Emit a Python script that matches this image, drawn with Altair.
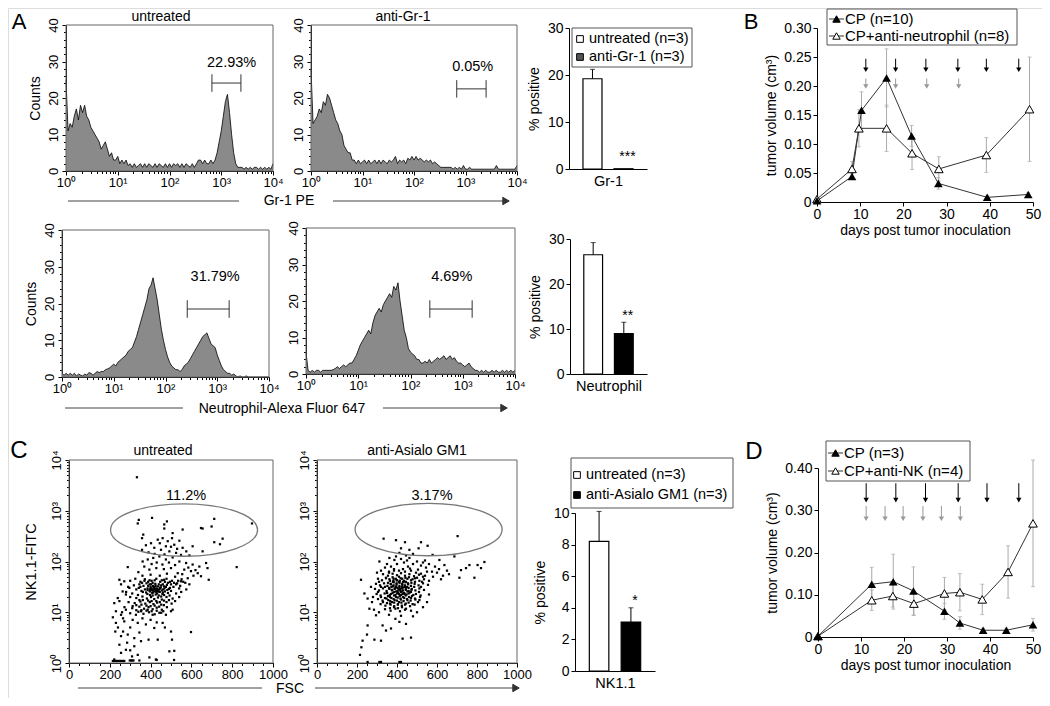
import altair as alt
import numpy as np
import pandas as pd

FONT = "Liberation Sans"
M = 8
W, H = 1034, 690

# ---------------- data ----------------
# flow histograms: counts per log10 bin (bins 0.04 decade wide, 10^0 .. 10^4)
hist_bins_log = [round(i * 0.04, 2) for i in range(101)]
gr1_untreated = [25, 11, 13, 12, 15, 17, 14, 18, 16, 18, 15,
                 14, 12, 11, 10, 9, 8, 6, 7, 8, 6,
                 4, 5, 3, 3, 4, 2, 3, 2, 3, 1.5,
                 2, 1, 2, 1, 1.5, 2, 1, 2, 1, 2, 1.5, 1, 2, 1, 2, 1.5, 1, 2, 1, 2,
                 1, 2, 1.5, 2, 1, 2, 1, 2, 1.5, 1, 2, 1, 2, 3,
                 3, 2, 3, 2, 2, 3,
                 2, 3, 5, 8, 11, 15, 19, 21, 16, 10, 5, 2, 1, 1,
                 1, 0.5, 1, 0.5, 1, 0.5, 1, 1, 0.5, 1, 0.5, 1, 0.5, 1, 0.5, 2]
gr1_anti = [28, 13, 14, 15, 17, 16, 19, 18, 21, 20, 18,
            16, 14, 13, 11, 10, 7, 6, 5, 5, 3, 3, 2,
            3, 2, 2.5, 3, 2, 3, 2, 2.5, 3, 2, 3, 2, 3, 2.5, 2, 3, 2.5, 3, 4, 2,
            3, 2.5, 3, 2, 3.5, 3, 4, 3, 4, 3, 3.5, 3, 2.5, 3, 2.5, 3, 2, 2.5, 2, 1.5,
            1, 1, 1, 1, 1, 1, 0.5, 1, 0.5, 1, 0.5, 1.5, 0.5, 0.5, 1,
            0.5, 0.5, 0.5, 0.5, 0.5, 0.5, 0.5, 0.5, 0.5, 0.5, 0.5, 0.5, 1.5, 0.5, 0.5,
            0.5, 0.5, 0.5, 0.5, 0.5, 0.5, 0.5, 1.5]
neu_untreated = [1, 0.5, 1, 0.5, 1, 0.5, 1, 0.3, 0.8, 0.5, 0.3, 0.8, 0.5,
                 1.2, 1, 0.5, 1, 1.5, 1.2, 1.5, 1.5, 2, 2.2, 2.5, 3,
                 3.5, 3, 4, 4.5, 5, 5.5, 6, 7, 7.5, 8, 9.5, 11, 13, 15, 17, 19, 21, 24, 25, 27,
                 24, 21, 17, 13, 10, 7.5, 5.5, 4, 3, 2.5, 2, 2, 1.5, 2,
                 3, 3.5, 4, 5, 6, 7, 8, 9, 10, 11, 11.5, 12, 10.5, 9, 8.5, 8, 6, 4.5, 3, 2,
                 1.5, 1, 1, 0.5, 0.8,
                 0.3, 0, 0.3, 0, 0, 0.3, 0, 0, 0, 0, 0, 0, 0, 0, 0, 0, 0]
neu_anti = [6, 1, 0.5, 1, 0.5, 1, 1, 0.5, 1, 1, 1, 1, 1,
            1.2, 1.5, 2, 1.5, 2, 2.5, 2, 2.5, 3, 3, 4, 5,
            6.5, 8, 9, 10, 11, 12, 11, 14, 16, 17, 18, 17, 19, 20, 21, 22, 21, 24, 23, 25,
            20, 16, 12, 10, 7, 6, 5.5, 5, 4, 4, 3, 3, 3.5, 3, 4, 3, 3.5, 4, 4.5, 4,
            4.5, 5, 4, 4.5, 5, 4, 4.5, 3.5, 3, 3, 2.5, 2, 2.5, 3, 2, 1.5, 1, 1, 0.5,
            1, 0.5, 1, 0.5, 0.5, 1, 0.5, 1, 0.5, 0.5, 1, 0.5, 1, 0.5, 1, 0.5, 1]

# bar charts (% positive)
bar_groups = ["untreated", "treated"]
gr1_pct, gr1_err = [19.2, 0.05], [2.0, 0.0]
neu_pct, neu_err = [26.5, 9.0], [2.7, 2.5]
nk_pct, nk_err = [8.2, 3.1], [1.9, 0.9]

# tumour growth, panel B
b_cp_day = [0, 8.1, 10.3, 16.1, 21.9, 28.1, 39.4, 48.9]
b_cp_vol = [0.002, 0.044, 0.158, 0.214, 0.114, 0.032, 0.008, 0.013]
b_cp_err = [0, 0.005, 0.032, 0.05, 0.018, 0.01, 0.003, 0.003]
b_ab_day = [0, 8.1, 9.7, 16.1, 22.0, 28.2, 39.2, 49.2]
b_ab_vol = [0.005, 0.057, 0.127, 0.127, 0.084, 0.057, 0.081, 0.16]
b_ab_err = [0, 0.013, 0.032, 0.04, 0.028, 0.021, 0.03, 0.09]
b_cp_doses = [11.3, 18.2, 25.2, 32.6, 39.2, 46.7]
b_ab_doses = [11.3, 18.2, 25.4, 32.8]

# tumour growth, panel D
d_cp_day = [0, 12.5, 17.5, 22.2, 29.4, 33.0, 38.4, 43.8, 50.0]
d_cp_vol = [0.002, 0.125, 0.131, 0.109, 0.061, 0.033, 0.016, 0.016, 0.029]
d_cp_err = [0, 0.04, 0.065, 0.057, 0.019, 0.015, 0.005, 0.005, 0.015]
d_ab_day = [0, 12.5, 17.4, 22.3, 29.4, 33.0, 38.2, 44.2, 50.0]
d_ab_vol = [0.002, 0.087, 0.097, 0.079, 0.103, 0.106, 0.089, 0.154, 0.269]
d_ab_err = [0, 0.024, 0.026, 0.028, 0.038, 0.044, 0.036, 0.062, 0.15]
d_cp_doses = [11.2, 18.1, 25.0, 32.6, 39.3, 46.7]
d_ab_doses = [11.2, 15.6, 19.8, 24.4, 28.7, 33.1]

# NK1.1 dot plots: (FSC, log10 NK1.1-FITC)
nk_untreated = [
    (333, 3.66), (342, 2.82), (337, 2.75), (407, 2.86), (467, 2.73), (480, 2.79), (467, 2.65),
    (712, 2.84), (699, 2.69), (897, 2.75), (647, 2.66), (655, 2.65), (557, 2.63), (508, 2.56),
    (364, 2.53), (358, 2.46), (753, 2.45), (740, 2.34), (712, 2.38), (606, 2.30), (655, 2.20),
    (402, 2.36), (435, 2.43), (459, 2.46), (484, 2.40), (505, 2.46), (516, 2.33), (541, 2.41),
    (557, 2.27), (475, 2.30), (451, 2.23), (418, 2.27), (492, 2.20), (525, 2.17), (549, 2.13),
    (358, 2.23), (377, 2.32), (445, 2.36), (530, 2.25), (468, 2.14), (500, 2.29), (420, 2.15),
    (575, 2.20), (590, 2.12), (390, 2.18),
    (288, 1.89), (361, 2.0), (386, 2.04), (413, 2.07), (443, 2.10), (475, 2.04), (508, 2.08),
    (541, 2.0), (574, 1.97), (606, 1.94), (639, 1.9), (672, 1.97), (679, 1.87), (822, 1.89),
    (631, 1.77), (598, 1.81), (565, 1.84), (533, 1.77), (500, 1.87), (458, 1.94), (428, 1.87),
    (394, 1.84), (369, 1.9), (647, 1.71), (685, 1.64), (582, 1.67), (549, 1.61), (430, 1.98),
    (465, 1.85), (520, 1.93), (555, 1.75), (610, 1.72), (340, 1.79), (405, 1.95), (490, 1.98),
    (585, 1.88), (620, 1.83), (360, 1.72), (445, 1.72), (520, 1.7), (480, 1.76), (400, 1.74),
    (300, 1.62), (325, 1.66), (350, 1.6), (372, 1.65), (395, 1.63), (410, 1.58), (428, 1.66),
    (447, 1.6), (466, 1.64), (485, 1.58), (505, 1.62), (530, 1.57), (560, 1.6), (590, 1.55),
    (290, 1.5), (318, 1.53), (342, 1.48), (365, 1.52), (385, 1.47), (400, 1.5), (415, 1.46),
    (425, 1.52), (438, 1.44), (450, 1.49), (462, 1.45), (475, 1.5), (490, 1.46), (512, 1.5),
    (540, 1.47), (575, 1.45), (355, 1.42), (378, 1.39), (395, 1.42), (408, 1.38), (420, 1.41),
    (432, 1.37), (445, 1.4), (458, 1.36), (470, 1.41), (485, 1.38), (500, 1.42), (525, 1.37),
    (550, 1.4), (280, 1.4), (310, 1.37), (338, 1.34), (300, 1.3), (330, 1.28), (360, 1.31),
    (382, 1.27), (402, 1.3), (418, 1.26), (436, 1.29), (455, 1.25), (478, 1.3), (508, 1.27),
    (540, 1.3), (292, 1.2), (322, 1.18), (350, 1.21), (374, 1.17), (396, 1.2), (414, 1.16),
    (432, 1.19), (452, 1.15), (478, 1.2), (503, 1.17), (272, 1.1), (310, 1.08), (345, 1.11),
    (368, 1.07), (390, 1.1), (410, 1.06), (430, 1.09), (455, 1.05), (480, 1.1), (260, 1.0),
    (300, 0.98), (340, 1.01), (365, 0.97), (392, 1.0), (420, 0.96), (452, 0.99), (500, 1.02),
    (420, 1.45), (412, 1.43), (428, 1.47), (416, 1.5), (405, 1.44), (435, 1.42), (440, 1.55),
    (395, 1.55), (380, 1.57), (460, 1.55), (470, 1.6), (350, 1.5), (330, 1.45), (525, 1.55),
    (545, 1.52), (500, 1.55),
    (405, 1.47), (418, 1.49), (432, 1.46), (447, 1.48), (398, 1.41), (411, 1.39), (426, 1.43),
    (441, 1.41), (455, 1.43), (468, 1.47), (482, 1.44), (495, 1.48), (388, 1.52), (402, 1.55),
    (423, 1.56), (437, 1.51), (452, 1.53), (466, 1.51), (480, 1.54), (372, 1.45), (384, 1.36),
    (397, 1.34), (410, 1.33), (425, 1.35), (440, 1.33), (452, 1.31), (466, 1.34), (493, 1.33),
    (362, 1.4), (345, 1.55), (358, 1.58), (370, 1.62), (388, 1.6), (405, 1.62), (420, 1.63),
    (455, 1.63), (478, 1.66), (495, 1.6), (515, 1.58), (535, 1.62), (552, 1.65), (570, 1.58),
    (345, 1.24), (362, 1.24), (388, 1.23), (405, 1.22), (428, 1.22), (445, 1.2), (466, 1.23),
    (490, 1.24), (520, 1.22), (330, 1.14), (355, 1.15), (380, 1.13), (400, 1.12), (420, 1.13),
    (442, 1.11), (465, 1.14), (330, 1.04), (355, 1.04), (380, 1.03), (405, 1.02), (430, 1.03),
    (462, 1.02), (412, 1.52), (428, 1.4), (444, 1.46), (460, 1.39), (398, 1.46), (385, 1.44),
    (247, 1.64), (271, 1.61), (296, 1.48), (279, 1.35), (239, 1.28), (263, 1.41), (255, 1.55),
    (222, 1.18), (247, 1.22), (230, 1.02), (255, 0.95), (279, 1.05), (312, 1.12), (328, 0.95),
    (353, 1.02), (386, 1.05), (410, 0.95), (443, 0.99), (475, 0.95), (508, 1.05), (230, 0.79),
    (271, 0.82), (312, 0.85), (337, 0.79), (377, 0.76), (418, 0.69), (459, 0.79), (500, 0.62),
    (505, 0.46), (598, 0.61), (227, 0.62), (255, 0.53), (288, 0.56), (320, 0.49), (353, 0.43),
    (390, 0.46), (435, 0.46), (247, 0.36), (279, 0.26), (320, 0.33), (255, 0.2), (309, 0.13),
    (337, 0.16), (394, 0.11), (426, 0.07), (492, 0.23), (516, 0.24), (222, 0.07), (215, 0.9),
    (240, 0.7), (265, 0.88), (300, 0.7), (345, 0.6), (360, 0.88), (400, 0.85), (430, 0.8),
    (470, 0.7), (285, 0.4), (300, 0.25), (265, 0.62),
    (215, 0.04), (222, 0.04), (229, 0.04), (236, 0.04), (243, 0.04), (250, 0.04), (257, 0.04),
    (264, 0.04), (271, 0.04), (298, 0.05), (304, 0.05), (310, 0.05), (316, 0.05), (345, 0.05),
    (430, 0.06), (515, 0.06)]

nk_anti = [
    (333, 2.45), (395, 2.42), (440, 2.38), (520, 2.38), (703, 2.5), (508, 2.26), (462, 2.23),
    (420, 2.26), (553, 2.31), (412, 2.17), (480, 2.15), (445, 2.12),
    (362, 2.07), (312, 2.0), (387, 2.03), (462, 2.07), (578, 2.13), (612, 2.03), (637, 1.93),
    (687, 2.1), (720, 1.83), (745, 1.87), (762, 1.93), (803, 1.93), (837, 1.99), (820, 1.87),
    (787, 1.68), (712, 1.68), (420, 2.05), (435, 1.98), (500, 2.0), (540, 2.02), (560, 1.95),
    (590, 1.9), (610, 1.85), (650, 1.82), (660, 1.75), (630, 1.72), (600, 1.78), (575, 1.8),
    (545, 1.88), (520, 1.92), (480, 1.95), (455, 1.9), (400, 1.95), (370, 1.9), (340, 1.88),
    (320, 1.82), (300, 1.78), (350, 1.95), (395, 2.1), (450, 2.02), (530, 1.98), (580, 1.7),
    (620, 1.65), (560, 1.62), (540, 1.72), (505, 1.84), (470, 1.82), (430, 1.85), (385, 1.82),
    (360, 1.78),
    (330, 1.75), (355, 1.72), (378, 1.76), (400, 1.73), (420, 1.77), (440, 1.72), (462, 1.75),
    (485, 1.71), (510, 1.74), (530, 1.7),
    (305, 1.66), (325, 1.63), (345, 1.67), (365, 1.62), (383, 1.66), (400, 1.63), (418, 1.67),
    (435, 1.62), (452, 1.66), (470, 1.63), (490, 1.67), (512, 1.62), (535, 1.65),
    (295, 1.56), (315, 1.53), (335, 1.57), (352, 1.52), (368, 1.56), (383, 1.53), (398, 1.57),
    (412, 1.52), (426, 1.56), (440, 1.53), (455, 1.57), (470, 1.52), (488, 1.56), (508, 1.53),
    (530, 1.57), (555, 1.54),
    (290, 1.46), (310, 1.43), (330, 1.47), (348, 1.42), (362, 1.46), (376, 1.43), (390, 1.47),
    (403, 1.42), (416, 1.46), (430, 1.43), (444, 1.47), (458, 1.42), (474, 1.46), (492, 1.43),
    (512, 1.47), (535, 1.44),
    (298, 1.36), (318, 1.33), (338, 1.37), (355, 1.32), (370, 1.36), (385, 1.33), (400, 1.37),
    (414, 1.32), (428, 1.36), (443, 1.33), (458, 1.37), (475, 1.32), (495, 1.36), (518, 1.33),
    (305, 1.26), (328, 1.23), (348, 1.27), (366, 1.22), (383, 1.26), (400, 1.23), (417, 1.27),
    (433, 1.22), (450, 1.26), (468, 1.23), (490, 1.27), (512, 1.24),
    (318, 1.16), (342, 1.13), (365, 1.17), (386, 1.12), (405, 1.16), (424, 1.13), (444, 1.17),
    (465, 1.12), (488, 1.15), (340, 1.06), (368, 1.03), (392, 1.07), (415, 1.02), (440, 1.05),
    (470, 1.03),
    (372, 1.5), (386, 1.4), (394, 1.5), (408, 1.45), (420, 1.4), (424, 1.5), (436, 1.38),
    (380, 1.6), (410, 1.6), (350, 1.38), (340, 1.5), (450, 1.5), (460, 1.3), (395, 1.3),
    (365, 1.3), (430, 1.3), (410, 1.2), (375, 1.2), (445, 1.6), (470, 1.4),
    (360, 1.48), (374, 1.44), (388, 1.46), (402, 1.48), (416, 1.43), (430, 1.49), (444, 1.44),
    (458, 1.48), (472, 1.44), (486, 1.5), (355, 1.58), (370, 1.55), (384, 1.59), (398, 1.55),
    (413, 1.58), (427, 1.54), (442, 1.59), (456, 1.55), (472, 1.58), (490, 1.6), (350, 1.38),
    (364, 1.34), (378, 1.38), (392, 1.34), (406, 1.39), (420, 1.34), (434, 1.38), (448, 1.35),
    (464, 1.39), (482, 1.34), (345, 1.68), (362, 1.65), (378, 1.69), (394, 1.66), (410, 1.7),
    (426, 1.66), (442, 1.68), (460, 1.69), (478, 1.65), (500, 1.68), (340, 1.28), (356, 1.24),
    (372, 1.28), (388, 1.24), (404, 1.29), (420, 1.25), (436, 1.28), (452, 1.24), (470, 1.28),
    (492, 1.25), (350, 1.18), (368, 1.15), (386, 1.19), (404, 1.15), (422, 1.19), (440, 1.15),
    (458, 1.19), (478, 1.16), (320, 1.5), (310, 1.6), (305, 1.4), (320, 1.3), (330, 1.2),
    (510, 1.4), (520, 1.5), (525, 1.6), (515, 1.3), (505, 1.2), (365, 1.08), (385, 1.1),
    (405, 1.08), (425, 1.1), (445, 1.07), (360, 1.8), (385, 1.85), (410, 1.82), (440, 1.8),
    (465, 1.86), (495, 1.78), (520, 1.76), (550, 1.8), (380, 1.51), (396, 1.51), (412, 1.49),
    (426, 1.47), (440, 1.5), (396, 1.41), (410, 1.36), (424, 1.41), (438, 1.36), (452, 1.41),
    (382, 1.62), (398, 1.63), (414, 1.62), (430, 1.6),
    (220, 1.64), (237, 1.37), (253, 1.27), (262, 1.07), (295, 0.94), (328, 0.74), (345, 0.64),
    (320, 0.44), (253, 0.74), (250, 0.56), (228, 0.44), (222, 0.31), (215, 0.16), (287, 0.46),
    (428, 0.48), (470, 0.5), (370, 0.68), (392, 0.87), (412, 0.81), (445, 0.77), (275, 1.2),
    (285, 1.05), (310, 1.0), (360, 0.95), (420, 0.93), (480, 0.92), (500, 1.0), (530, 1.1),
    (550, 1.2), (560, 1.35), (270, 1.5), (280, 1.3),
    (253, 0.02), (312, 0.02), (320, 0.02), (412, 0.02), (420, 0.02)]

# ---------------- layout helpers ----------------
DUMMY = pd.DataFrame({"k": [0]})


def P(v):
    return v - M


BOX = {  # page px: (x_left, x_right, y_bottom, y_top)
    "h1": (66, 273, 171, 25), "h2": (311, 517, 171, 25), "b1": (569, 647, 169, 28),
    "B": (817, 1033, 202, 28), "h3": (62, 269, 377, 230), "h4": (306, 515, 374, 228),
    "b2": (570, 647, 374, 239), "s1": (69, 273, 663, 460), "s2": (317, 517, 663, 460),
    "b3": (575, 655, 671, 513), "D": (818, 1033, 637, 468),
}

BASE_AX = dict(grid=False, labelFont=FONT, titleFont=FONT, labelColor="black",
               titleColor="black", domainColor="black", tickColor="black",
               domainWidth=1, tickWidth=1, labelFlush=False, labelOverlap=False,
               titleFontWeight="normal")


def sx(box, dom):
    return alt.Scale(domain=dom, range=[P(box[0]), P(box[1])], nice=False, zero=False)


def sy(box, dom):
    return alt.Scale(domain=dom, range=[P(box[2]), P(box[3])], nice=False, zero=False)


def xax(box, **kw):
    d = dict(BASE_AX)
    d.update(kw)
    return alt.Axis(orient="bottom", offset=P(box[2]) - H, **d)


def yax(box, **kw):
    d = dict(BASE_AX)
    d.update(kw)
    return alt.Axis(orient="left", offset=-P(box[0]), **d)


def ptext(txt, x, y, size=14, align="center", baseline="middle", color="black"):
    return alt.Chart(DUMMY).mark_text(text=txt, font=FONT, fontSize=size, align=align,
                                      baseline=baseline, color=color).encode(
        x=alt.value(P(x)), y=alt.value(P(y)))


def prule(x1, y1, x2, y2, color="#444", width=1.0):
    return alt.Chart(DUMMY).mark_rule(color=color, strokeWidth=width).encode(
        x=alt.value(P(x1)), y=alt.value(P(y1)), x2=alt.value(P(x2)), y2=alt.value(P(y2)))


def prect(x1, y1, x2, y2, stroke="#555"):
    return alt.Chart(DUMMY).mark_rect(fill="white", stroke=stroke, strokeWidth=1).encode(
        x=alt.value(P(x1)), y=alt.value(P(y1)), x2=alt.value(P(x2)), y2=alt.value(P(y2)))


def ppoint(x, y, shape, size, fill, stroke="black", sw=1.0):
    return alt.Chart(DUMMY).mark_point(shape=shape, size=size, filled=True, fill=fill,
                                       stroke=stroke, strokeWidth=sw, opacity=1).encode(
        x=alt.value(P(x)), y=alt.value(P(y)))


SUP = "['\u2070','\u00b9','\u00b2','\u00b3','\u2074']"
LOG_LABEL = "'10' + " + SUP + "[round(datum.value)]"
LOG_MINOR = [k + float(np.log10(m)) for k in range(4) for m in range(2, 10)]
ELLIPSE = "M-1,0A1,0.357,0,1,1,1,0A1,0.357,0,1,1,-1,0Z"


def histogram(box, counts, ytitle, gate, pct, pct_pos):
    df = pd.DataFrame({"lg": hist_bins_log, "n": counts})
    xsc, ysc = sx(box, [0, 4]), sy(box, [0, 40])
    ax_x = xax(box, values=[0, 1, 2, 3, 4], labelExpr=LOG_LABEL, labelFontSize=13,
               tickSize=4, labelPadding=1, title=None)
    ax_y = yax(box, values=[0, 10, 20, 30, 40], labelAngle=270, labelAlign="center",
               labelBaseline="bottom", labelFontSize=13, tickSize=4, labelPadding=2,
               title=ytitle, titleFontSize=14, titlePadding=5)
    out = []
    out.append(alt.Chart(df).mark_area(color="#8a8a8a", opacity=1).encode(
        x=alt.X("lg:Q", scale=xsc, axis=ax_x), y=alt.Y("n:Q", scale=ysc, axis=ax_y)))
    out.append(alt.Chart(df).mark_line(color="black", strokeWidth=0.8).encode(
        x=alt.X("lg:Q", scale=xsc, axis=None), y=alt.Y("n:Q", scale=ysc, axis=None)))
    fr = pd.DataFrame({"x0": [0], "x1": [4], "y0": [0], "y1": [40]})
    out.append(alt.Chart(fr).mark_rect(fillOpacity=0, stroke="#666", strokeWidth=1).encode(
        x=alt.X("x0:Q", scale=xsc, axis=xax(box, values=LOG_MINOR, labels=False, domain=False,
                                             tickSize=2.5, title=None)),
        x2="x1",
        y=alt.Y("y0:Q", scale=ysc, axis=yax(box, values=list(range(0, 41, 2)), labels=False,
                                             domain=False, tickSize=2.5, title=None)),
        y2="y1"))
    lo, hi, lev = gate
    g = pd.DataFrame({"lo": [lo], "hi": [hi], "lev": [lev]})
    out.append(alt.Chart(g).mark_rule(color="#333", strokeWidth=1).encode(
        x=alt.X("lo:Q", scale=xsc, axis=None), x2="hi", y=alt.Y("lev:Q", scale=ysc, axis=None)))
    ends = pd.DataFrame({"x": [lo, hi], "a": [lev - 2.4] * 2, "b": [lev + 2.4] * 2})
    out.append(alt.Chart(ends).mark_rule(color="#333", strokeWidth=1).encode(
        x=alt.X("x:Q", scale=xsc, axis=None), y=alt.Y("a:Q", scale=ysc, axis=None), y2="b"))
    t = pd.DataFrame({"x": [pct_pos[0]], "y": [pct_pos[1]], "t": [pct]})
    out.append(alt.Chart(t).mark_text(font=FONT, fontSize=14.5, color="black").encode(
        x=alt.X("x:Q", scale=xsc, axis=None), y=alt.Y("y:Q", scale=ysc, axis=None), text="t:N"))
    return out


def scatter(box, pts, ytitle, ell_center, pct, pct_pos):
    df = pd.DataFrame(pts, columns=["fsc", "lg"])
    xsc, ysc = sx(box, [0, 1000]), sy(box, [0, 4])
    ax_x = xax(box, values=[0, 200, 400, 600, 800, 1000], format="d", labelFontSize=13,
               tickSize=4, labelPadding=1, title=None)
    ax_y = yax(box, values=[0, 1, 2, 3, 4], labelExpr=LOG_LABEL, labelAngle=270,
               labelAlign="center", labelBaseline="bottom", labelFontSize=13, tickSize=4,
               labelPadding=2, title=ytitle, titleFontSize=14.5, titlePadding=12)
    out = []
    fr = pd.DataFrame({"x0": [0], "x1": [1000], "y0": [0], "y1": [4]})
    out.append(alt.Chart(fr).mark_rect(fillOpacity=0, stroke="#666", strokeWidth=1).encode(
        x=alt.X("x0:Q", scale=xsc, axis=xax(box, values=list(range(0, 1001, 50)), labels=False,
                                             domain=False, tickSize=2.5, title=None)),
        x2="x1",
        y=alt.Y("y0:Q", scale=ysc, axis=yax(box, values=LOG_MINOR, labels=False, domain=False,
                                             tickSize=2.5, title=None)),
        y2="y1"))
    out.append(alt.Chart(df).mark_square(size=5, color="black", opacity=1).encode(
        x=alt.X("fsc:Q", scale=xsc, axis=ax_x), y=alt.Y("lg:Q", scale=ysc, axis=ax_y)))
    e = pd.DataFrame({"x": [ell_center[0]], "y": [ell_center[1]]})
    out.append(alt.Chart(e).mark_point(shape=ELLIPSE, size=147 ** 2, color="#777",
                                       strokeWidth=1.3, opacity=1).encode(
        x=alt.X("x:Q", scale=xsc, axis=None), y=alt.Y("y:Q", scale=ysc, axis=None)))
    t = pd.DataFrame({"x": [pct_pos[0]], "y": [pct_pos[1]], "t": [pct]})
    out.append(alt.Chart(t).mark_text(font=FONT, fontSize=14.5, color="black").encode(
        x=alt.X("x:Q", scale=xsc, axis=None), y=alt.Y("y:Q", scale=ysc, axis=None), text="t:N"))
    return out


def barchart(box, vals, errs, ymax, yticks, anti_fill, stars, star_y, xtitle):
    df = pd.DataFrame({"g": bar_groups, "v": vals, "e": errs,
                       "top": [v + e for v, e in zip(vals, errs)],
                       "fill": ["white", anti_fill]})
    xsc = alt.Scale(domain=bar_groups, range=[P(box[0]), P(box[1])],
                    paddingInner=0.387, paddingOuter=0.45)
    ysc = sy(box, [0, ymax])
    out = []
    out.append(alt.Chart(df).mark_bar(stroke="black", strokeWidth=1.2).encode(
        x=alt.X("g:N", scale=xsc, axis=xax(box, labels=False, ticks=False, title=xtitle,
                                            titleFontSize=14.5, titlePadding=5)),
        y=alt.Y("v:Q", scale=ysc, axis=yax(box, values=yticks, labelFontSize=14, tickSize=4,
                                            labelPadding=2, title="% positive",
                                            titleFontSize=14, titlePadding=6)),
        fill=alt.Fill("fill:N", scale=None)))
    edf = df[df.e > 0]
    out.append(alt.Chart(edf).mark_rule(color="black", strokeWidth=1).encode(
        x=alt.X("g:N", scale=xsc, axis=None, bandPosition=0.5),
        y=alt.Y("v:Q", scale=ysc, axis=None), y2="top"))
    out.append(alt.Chart(edf).mark_tick(orient="horizontal", size=5, thickness=1,
                                        color="black").encode(
        x=alt.X("g:N", scale=xsc, axis=None, bandPosition=0.5),
        y=alt.Y("top:Q", scale=ysc, axis=None)))
    s = pd.DataFrame({"g": [bar_groups[1]], "y": [star_y], "t": [stars]})
    out.append(alt.Chart(s).mark_text(font=FONT, fontSize=14, color="black").encode(
        x=alt.X("g:N", scale=xsc, axis=None, bandPosition=0.5),
        y=alt.Y("y:Q", scale=ysc, axis=None), text="t:N"))
    return out


def growth(box, ymax, yticks, cp, ab, cp_doses, ab_doses, levels):
    xsc, ysc = sx(box, [0, 50]), sy(box, [0, ymax])

    def X(f, ax=None):
        return alt.X(f, scale=xsc, axis=ax)

    def Y(f, ax=None):
        return alt.Y(f, scale=ysc, axis=ax)

    ax_x = xax(box, values=[0, 10, 20, 30, 40, 50], labelFontSize=14, tickSize=4,
               labelPadding=1, title="days post tumor inoculation", titleFontSize=14,
               titlePadding=2)
    ax_y = yax(box, values=yticks, labelExpr="datum.value == 0 ? '0' : format(datum.value, '.2f')",
               labelFontSize=14, tickSize=4, labelPadding=2, title="tumor volume (cm\u00b3)",
               titleFontSize=14, titlePadding=5)

    def sdf(days, vols, errs):
        return pd.DataFrame({"d": days, "v": vols, "e": errs,
                             "lo": [v - e for v, e in zip(vols, errs)],
                             "hi": [v + e for v, e in zip(vols, errs)]})

    cpd, abd = sdf(*cp), sdf(*ab)
    out = []
    for s in (abd, cpd):
        e = s[s.e > 0]
        out.append(alt.Chart(e).mark_rule(color="#aaa", strokeWidth=1).encode(
            x=X("d:Q"), y=Y("lo:Q"), y2="hi"))
        out.append(alt.Chart(e).transform_fold(["lo", "hi"], as_=["k", "y"]).mark_tick(
            orient="horizontal", size=4, thickness=1, color="#aaa").encode(
            x=X("d:Q"), y=Y("y:Q")))
    (bt, bh), (gt, gh) = levels
    for days, top, tip, col in ((cp_doses, bt, bh, "black"), (ab_doses, gt, gh, "#999")):
        a = pd.DataFrame({"d": days, "top": [top] * len(days), "tip": [tip] * len(days)})
        out.append(alt.Chart(a).mark_rule(color=col, strokeWidth=1).encode(
            x=X("d:Q"), y=Y("top:Q"), y2="tip"))
        out.append(alt.Chart(a).mark_point(shape="triangle-down", size=28, filled=True,
                                           color=col, opacity=1).encode(
            x=X("d:Q"), y=Y("tip:Q")))
    out.append(alt.Chart(abd).mark_line(color="#333", strokeWidth=1).encode(
        x=X("d:Q", ax_x), y=Y("v:Q", ax_y)))
    out.append(alt.Chart(cpd).mark_line(color="#333", strokeWidth=1).encode(
        x=X("d:Q"), y=Y("v:Q")))
    out.append(alt.Chart(abd).mark_point(shape="triangle-up", size=75, filled=True,
                                         fill="white", stroke="black", strokeWidth=1,
                                         opacity=1).encode(x=X("d:Q"), y=Y("v:Q")))
    out.append(alt.Chart(cpd).mark_point(shape="triangle-up", size=75, filled=True,
                                         color="black", opacity=1).encode(
        x=X("d:Q"), y=Y("v:Q")))
    return out


# ---------------- build ----------------
layers = []
layers += histogram(BOX["h1"], gr1_untreated, "Counts", (2.82, 3.38, 24.1), "22.93%", (3.2, 29.6))
layers += histogram(BOX["h2"], gr1_anti, None, (2.83, 3.40, 22.5), "0.05%", (3.14, 28.6))
layers += histogram(BOX["h3"], neu_untreated, "Counts", (2.42, 3.23, 18.5), "31.79%", (2.96, 27.2))
layers += histogram(BOX["h4"], neu_anti, None, (2.37, 3.18, 17.8), "4.69%", (2.79, 26.6))
layers += barchart(BOX["b1"], gr1_pct, gr1_err, 30, [0, 10, 20, 30], "#555", "***", 2.6, "Gr-1")
layers += barchart(BOX["b2"], neu_pct, neu_err, 30, [0, 10, 20, 30], "black", "**", 13.0, "Neutrophil")
layers += barchart(BOX["b3"], nk_pct, nk_err, 10, [0, 2, 4, 6, 8, 10], "black", "*", 4.4, "NK1.1")
layers += scatter(BOX["s1"], nk_untreated, "NK1.1-FITC", (564, 2.62), "11.2%", (574, 3.30))
layers += scatter(BOX["s2"], nk_anti, None, (558, 2.63), "3.17%", (575, 3.30))
layers += growth(BOX["B"], 0.30, [0, 0.05, 0.1, 0.15, 0.2, 0.25, 0.3],
                 (b_cp_day, b_cp_vol, b_cp_err), (b_ab_day, b_ab_vol, b_ab_err),
                 b_cp_doses, b_ab_doses, ((0.247, 0.228), (0.213, 0.199)))
layers += growth(BOX["D"], 0.40, [0, 0.1, 0.2, 0.3, 0.4],
                 (d_cp_day, d_cp_vol, d_cp_err), (d_ab_day, d_ab_vol, d_ab_err),
                 d_cp_doses, d_ab_doses, ((0.364, 0.324), (0.31, 0.28)))

# panel letters and titles
for t, x, y, fs in (("A", 19, 22, 22), ("B", 751, 22, 22), ("C", 19, 451, 24), ("D", 754, 452, 24)):
    layers.append(ptext(t, x, y, size=fs))
layers += [ptext("untreated", 161, 17), ptext("anti-Gr-1", 403, 17),
           ptext("untreated", 163, 451), ptext("anti-Asialo GM1", 417, 451)]

# shared axis captions with arrows
layers += [prule(68, 201, 239, 201), ptext("Gr-1 PE", 289, 201),
           prule(333, 201, 505, 201), ppoint(506, 201, "triangle-right", 55, "#333", "#333"),
           prule(65, 408, 183, 408), ptext("Neutrophil-Alexa Fluor 647", 282, 409),
           prule(383, 408, 503, 408), ppoint(504, 408, "triangle-right", 55, "#333", "#333"),
           prule(78, 688, 262, 688), ptext("FSC", 290, 689),
           prule(315, 688, 515, 688), ppoint(516, 688, "triangle-right", 55, "#333", "#333")]

# legends
layers += [prect(572, 28, 692, 67),
           ppoint(580, 39, "square", 45, "white"), ptext("untreated (n=3)", 589, 39, 14.5, "left"),
           ppoint(580, 57, "square", 45, "#555"), ptext("anti-Gr-1 (n=3)", 589, 57, 14.5, "left")]
layers += [prect(571, 458, 733, 508),
           ppoint(577, 475, "square", 45, "white"), ptext("untreated (n=3)", 586, 475, 14.5, "left"),
           ppoint(577, 495, "square", 45, "black"),
           ptext("anti-Asialo GM1 (n=3)", 586, 495, 14.5, "left")]
layers += [prect(827, 9, 1017, 45),
           prule(829, 19, 844, 19, "#333"), ppoint(836.5, 19, "triangle-up", 55, "black"),
           ptext("CP (n=10)", 845, 19, 15, "left"),
           prule(829, 36, 844, 36, "#333"), ppoint(836.5, 36, "triangle-up", 55, "white"),
           ptext("CP+anti-neutrophil (n=8)", 845, 36, 15, "left")]
layers += [prect(826, 441, 970, 481),
           prule(828, 453, 843, 453, "#333"), ppoint(835.5, 453, "triangle-up", 55, "black"),
           ptext("CP (n=3)", 844, 453, 15, "left"),
           prule(828, 471, 843, 471, "#333"), ppoint(835.5, 471, "triangle-up", 55, "white"),
           ptext("CP+anti-NK (n=4)", 844, 471, 15, "left")]

chart = alt.layer(*layers).resolve_scale(x="independent", y="independent").properties(
    width=W, height=H, autosize=alt.AutoSizeParams(type="none"), padding=0,
    background="white").configure_view(strokeWidth=0).configure(font=FONT)

chart.save("out.html", embed_options={"renderer": "svg", "actions": False})
